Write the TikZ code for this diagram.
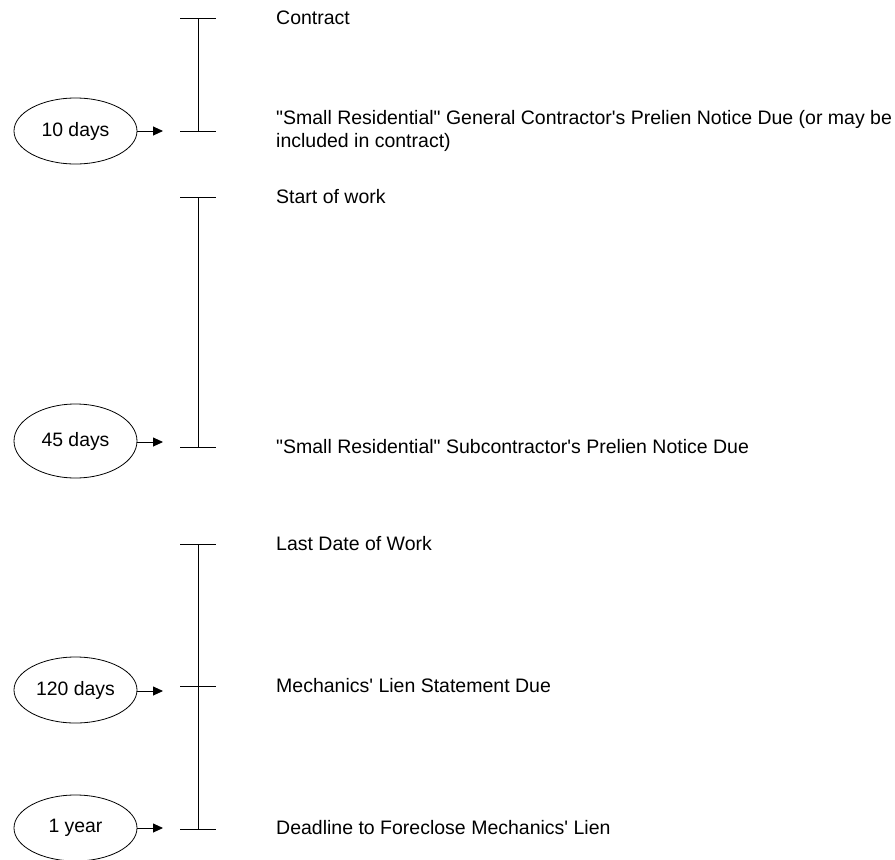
\documentclass[tikz,border=0pt]{standalone}
\usepackage{fontspec}
\setmainfont{Liberation Sans}[Ligatures=TeXOff]
\usetikzlibrary{shapes.geometric,arrows.meta}
\tikzset{
  period/.style={draw=black, ellipse, line width=0.8pt, minimum width=123pt, minimum height=66pt, inner sep=0pt, font=\fontsize{19.4}{22.3}\selectfont},
  label/.style={anchor=west, inner sep=0pt, align=left, font=\fontsize{19.5}{23}\selectfont},
  pointer/.style={-{Triangle[length=10pt,width=9pt]}, line width=0.9pt},
  bar/.style={line width=0.9pt},
}
\begin{document}
\begin{tikzpicture}[x=1pt,y=-1pt]
\useasboundingbox (0,0) rectangle (895,860);
\clip (0,0) rectangle (895,860);
% tick coordinates
\coordinate (t1) at (198,18);
\coordinate (t2) at (198,131);
\coordinate (t3) at (198,197);
\coordinate (t4) at (198,447);
\coordinate (t5) at (198,544);
\coordinate (t6) at (198,686);
\coordinate (t7) at (198,829);
% arrow tips
\coordinate (a1) at (163,131);
\coordinate (a2) at (163,442);
\coordinate (a3) at (163,691);
\coordinate (a4) at (163,828);
% vertical spans
\draw[bar] (t1) -- (t2);
\draw[bar] (t3) -- (t4);
\draw[bar] (t5) -- (t7);
% ticks
\foreach \t in {t1,t2,t3,t4,t5,t6,t7}
  \draw[bar] ([xshift=-18pt]\t) -- ([xshift=18pt]\t);
% ellipses
\node[period] (e1) at (75.5,131) {10 days};
\node[period, minimum height=74pt] (e2) at (75.5,441) {45 days};
\node[period] (e3) at (75.5,690) {120 days};
\node[period] (e4) at (75.5,828) {1 year};
\draw[pointer] (e1.east |- a1) -- (a1);
\draw[pointer] (e2.east |- a2) -- (a2);
\draw[pointer] (e3.east |- a3) -- (a3);
\draw[pointer] (e4.east |- a4) -- (a4);
% labels
\node[label] (l1) at (276,18) {Contract};
\node[label] (l2) at (276,131) {"Small Residential" General Contractor's Prelien Notice Due (or may be\\included in contract)};
\node[label] (l3) at (276,197) {Start of work};
\node[label] (l4) at (276,447) {"Small Residential" Subcontractor's Prelien Notice Due};
\node[label] (l5) at (276,544) {Last Date of Work};
\node[label] (l6) at (276,686) {Mechanics' Lien Statement Due};
\node[label] (l7) at (276,828) {Deadline to Foreclose Mechanics' Lien};
\end{tikzpicture}
\end{document}
